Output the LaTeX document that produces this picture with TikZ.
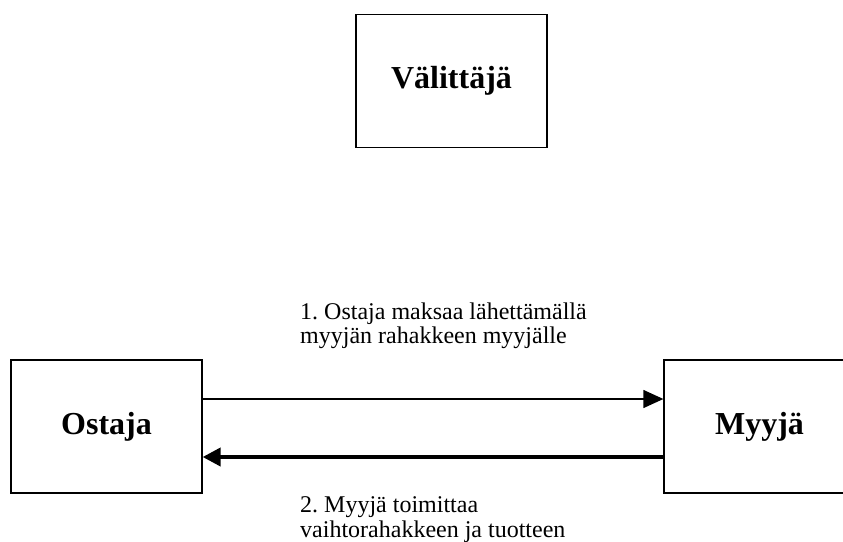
\documentclass[tikz,border=0pt]{standalone}
\usepackage{fontspec}
\setmainfont{Liberation Serif}
\usetikzlibrary{arrows.meta}
\frenchspacing
\begin{document}
\begin{tikzpicture}[x=1pt,y=-1pt,
  actor/.style={draw=black,line width=1.3pt,minimum width=191pt,minimum height=133pt,inner sep=0pt,font=\fontsize{32}{36}\selectfont\bfseries},
  lbl/.style={anchor=north west,inner sep=0pt,align=left,font=\fontsize{24}{24.5}\selectfont},
  thin/.style={line width=1.3pt,-{Triangle[length=20pt,width=18pt]}},
  thick/.style={line width=4pt,-{Triangle[length=18pt,width=18pt]}}]
\useasboundingbox (0,0) rectangle (843,541);
\begin{scope}
\clip (0,0) rectangle (843,541);
\node[actor] (v) at (451.5,81) {Välittäjä};
\node[actor] (o) at (106.5,426.5) {Ostaja};
\node[actor] (m) at (759.5,426.5) {Myyjä};
\coordinate (a1s) at (o.east |- 0,399);
\coordinate (a1e) at (m.west |- 0,399);
\coordinate (a2s) at (m.west |- 0,457);
\coordinate (a2e) at (o.east |- 0,457);
\draw[thin] (a1s) -- (a1e);
\draw[thick] (a2s) -- (a2e);
\node[lbl] (t1) at (300,302.5) {1. Ostaja maksaa lähettämällä\\myyjän rahakkeen myyjälle};
\node[lbl] (t2) at (300,496.5) {2. Myyjä toimittaa\\vaihtorahakkeen ja tuotteen};
\end{scope}
\end{tikzpicture}
\end{document}
